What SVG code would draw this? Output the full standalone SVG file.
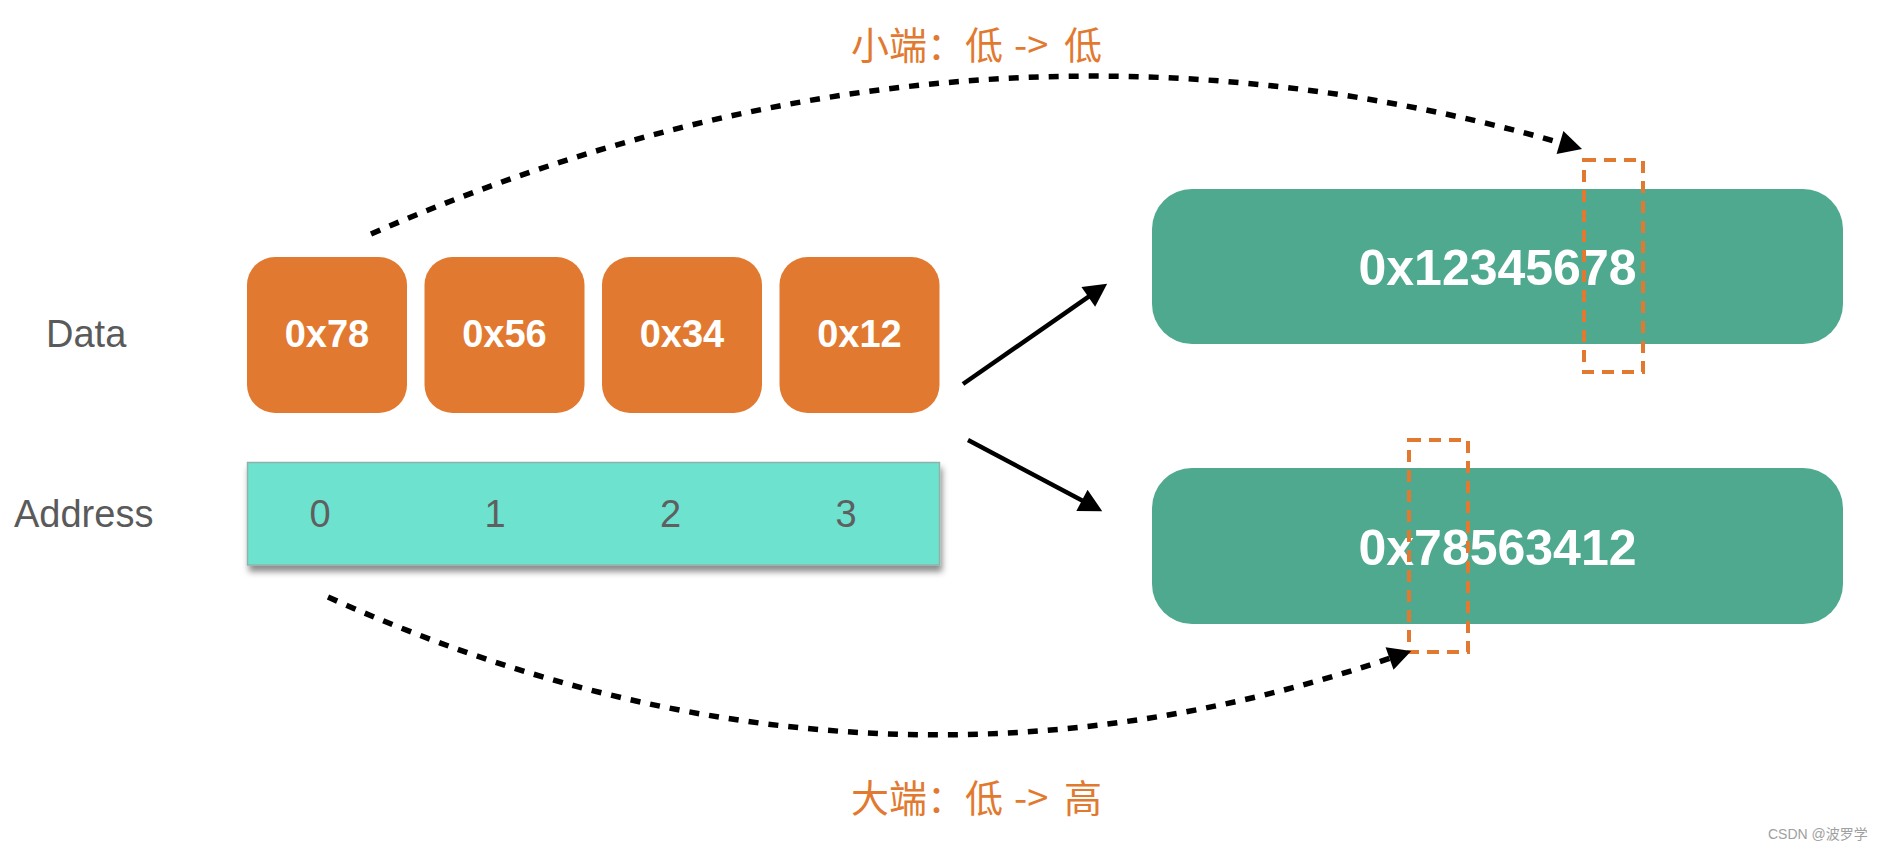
<svg xmlns="http://www.w3.org/2000/svg" width="1882" height="848" viewBox="0 0 1882 848">
  <style>
    .lbl { font-family: "Liberation Sans", Arial, sans-serif; font-size: 38px; fill: #5a5a5a; }
    .byte { fill: #E17A30; }
    .bytetxt { font-family: "Liberation Sans", Arial, sans-serif; font-size: 38px; font-weight: bold; fill: #ffffff; text-anchor: middle; }
    .addr { fill: #6CE2CF; stroke: #8fb3ab; stroke-width: 1.5; }
    .digit { font-family: "Liberation Sans", Arial, sans-serif; font-size: 38px; fill: #5f5f5f; text-anchor: middle; }
    .word { fill: #4EA98F; }
    .wordtxt { font-family: "Liberation Sans", Arial, sans-serif; font-size: 50px; font-weight: bold; fill: #ffffff; text-anchor: middle; }
    .hl { fill: none; stroke: #E17A30; stroke-width: 4; stroke-dasharray: 12 8; }
    .solid { fill: none; stroke: #000; stroke-width: 4.5; }
    .dotted { fill: none; stroke: #000; stroke-width: 5.5; stroke-dasharray: 10 10; }
    .cap { font-family: "Noto Sans CJK SC", "Noto Sans", sans-serif; font-size: 38px; fill: #E17A30; }
    .wm { font-family: "Liberation Sans", "Noto Sans CJK SC", sans-serif; font-size: 14px; fill: #a0a0a0; }
  </style>
  <defs>
    <marker id="ah" markerUnits="userSpaceOnUse" markerWidth="24" markerHeight="24" viewBox="0 0 22 23" refX="16" refY="11.5" orient="auto">
      <path d="M0,0 L22,11.5 L0,23 z" fill="#000"/>
    </marker>
    <filter id="shadow" x="-5%" y="-20%" width="110%" height="150%">
      <feDropShadow dx="2" dy="6" stdDeviation="3" flood-color="#000" flood-opacity="0.45"/>
    </filter>
  </defs>

  <rect width="1882" height="848" fill="#ffffff"/>

  <g id="label-data"><text class="lbl" x="46" y="347">Data</text></g>
  <g id="label-address"><text class="lbl" x="14" y="527">Address</text></g>

  <g id="byte-0"><rect class="byte" x="247" y="257" width="160" height="156" rx="28"/><text class="bytetxt" x="327" y="347">0x78</text></g>
  <g id="byte-1"><rect class="byte" x="424.5" y="257" width="160" height="156" rx="28"/><text class="bytetxt" x="504.5" y="347">0x56</text></g>
  <g id="byte-2"><rect class="byte" x="602" y="257" width="160" height="156" rx="28"/><text class="bytetxt" x="682" y="347">0x34</text></g>
  <g id="byte-3"><rect class="byte" x="779.5" y="257" width="160" height="156" rx="28"/><text class="bytetxt" x="859.5" y="347">0x12</text></g>

  <g id="address-bar">
    <rect class="addr" x="247.5" y="462.5" width="692" height="102.5" filter="url(#shadow)"/>
    <text class="digit" x="320" y="527">0</text>
    <text class="digit" x="495" y="527">1</text>
    <text class="digit" x="670.5" y="527">2</text>
    <text class="digit" x="846" y="527">3</text>
  </g>

  <g id="little-endian-word"><rect class="word" x="1152" y="189" width="691" height="155" rx="40"/><text class="wordtxt" x="1497.5" y="285">0x12345678</text></g>
  <g id="big-endian-word"><rect class="word" x="1152" y="468" width="691" height="156" rx="40"/><text class="wordtxt" x="1497.5" y="565">0x78563412</text></g>

  <g id="highlight-little"><rect class="hl" x="1584" y="160" width="59" height="212"/></g>
  <g id="highlight-big"><rect class="hl" x="1409" y="440" width="59" height="212"/></g>

  <g id="connectors">
    <path class="solid" d="M963,384 L1102,287.4" marker-end="url(#ah)"/>
    <path class="solid" d="M968,440 L1096.7,508.2" marker-end="url(#ah)"/>
    <path class="dotted" d="M371,234 Q976,-30 1576,147.3" marker-end="url(#ah)"/>
    <path class="dotted" d="M328,597 Q869,841 1405.3,653" marker-end="url(#ah)"/>
  </g>

  <g id="caption-little"><text class="cap" y="59"><tspan x="851">小端：低</tspan><tspan x="1014">-&gt;</tspan><tspan x="1064">低</tspan></text></g>
  <g id="caption-big"><text class="cap" y="812"><tspan x="851">大端：低</tspan><tspan x="1014">-&gt;</tspan><tspan x="1064">高</tspan></text></g>

  <g id="watermark"><text class="wm" x="1768" y="839">CSDN @波罗学</text></g>
</svg>
